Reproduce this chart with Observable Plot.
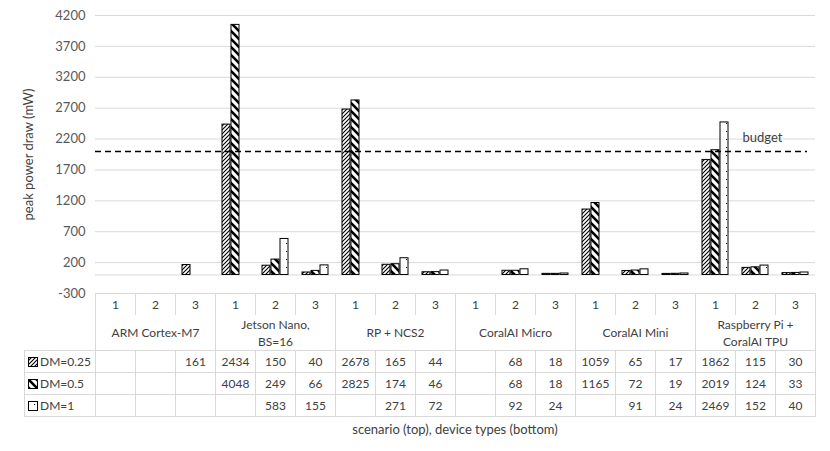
<!DOCTYPE html>
<html><head><meta charset="utf-8">
<script src="https://cdn.jsdelivr.net/npm/d3@7"></script>
<script src="https://cdn.jsdelivr.net/npm/@observablehq/plot@0.6"></script>
<style>
body{margin:0;background:#fff;font-family:Lato,"DejaVu Sans",sans-serif;}
#wrap{position:relative;width:830px;height:451px;overflow:hidden;background:#fff;}
#chart{position:absolute;left:0;top:0;}
#tbl{position:absolute;left:24px;top:293px;border-collapse:collapse;table-layout:fixed;font-size:12px;color:#404040;width:791px;background:transparent;}
#tbl td{padding:0;border:1px solid #d9d9d9;text-align:center;white-space:pre-line;line-height:17px;}
#tbl tr.r1 td{border-bottom:none;height:21px;}
#tbl tr.r2 td{border-top:none;height:35px;}
#tbl tr.rd td{height:21px;}
#tbl td.blank{border:none;}
#tbl td.leg{text-align:left;padding-left:3px;white-space:nowrap;}
#tbl td.leg svg{vertical-align:-1px;margin-right:2px;}
#xtitle{position:absolute;left:95px;width:720px;top:421px;text-align:center;font-size:13px;color:#404040;}
</style>
</head><body>
<div id="wrap"><div id="chart"></div><table id="tbl"></table><div id="xtitle"></div></div>
<script>
const devices = ["ARM Cortex-M7", "Jetson Nano,\nBS=16", "RP + NCS2", "CoralAI Micro", "CoralAI Mini", "Raspberry Pi +\nCoralAI TPU"];
const scenarios = [1, 2, 3];
const seriesNames = ["DM=0.25", "DM=0.5", "DM=1"];
const dm025 = [null, null, 161, 2434, 150, 40, 2678, 165, 44, null, 68, 18, 1059, 65, 17, 1862, 115, 30];
const dm05  = [null, null, null, 4048, 249, 66, 2825, 174, 46, null, 68, 18, 1165, 72, 19, 2019, 124, 33];
const dm1   = [null, null, null, null, 583, 155, null, 271, 72, null, 92, 24, null, 91, 24, 2469, 152, 40];
const yTicks = [-300, 200, 700, 1200, 1700, 2200, 2700, 3200, 3700, 4200];
const budget = 2000;
const budgetLabel = "budget";
const yLabel = "peak power draw (mW)";
const xTitle = "scenario (top), device types (bottom)";

const series = [dm025, dm05, dm1];
const patIds = ["p025", "p05", "p1"];
const cols = [];
devices.forEach((dev, di) => scenarios.forEach((s, si) => cols.push({key: dev + "|" + s, dev, s, i: di * 3 + si})));
const recs = s => cols.map(c => ({key: c.key, v: series[s][c.i]})).filter(d => d.v != null);

const insets = [[7, 25], [16, 16], [25, 7]];

const chart = Plot.plot({
  width: 830, height: 303,
  marginLeft: 95, marginRight: 15, marginTop: 15, marginBottom: 10,
  style: {fontFamily: "Lato, sans-serif", fontSize: "13px", color: "#595959", background: "transparent"},
  x: {domain: cols.map(c => c.key), padding: 0, axis: null},
  y: {domain: [-300, 4200], axis: null},
  marks: [
    Plot.ruleY(yTicks.slice(1), {stroke: "#d9d9d9", strokeWidth: 1}),
    Plot.ruleY([0], {stroke: "#d9d9d9", strokeWidth: 1}),
    Plot.axisY({ticks: yTicks, tickSize: 0, tickPadding: 10, label: null, fontSize: 13, tickFormat: d => String(d)}),
    Plot.text([yLabel], {text: d => d, frameAnchor: "left", textAnchor: "middle", dx: -67, rotate: -90, fill: "#404040", fontSize: 13}),
    ...[0, 1, 2].map(s => Plot.barY(recs(s), {
      x: "key", y: "v", fill: `url(#${patIds[s]})`, stroke: "black", strokeWidth: 1,
      insetLeft: insets[s][0], insetRight: insets[s][1]
    })),
    Plot.ruleY([budget], {stroke: "black", strokeWidth: 1.5, strokeDasharray: "6,4", insetRight: 8}),
    Plot.text([budget], {y: d => d, text: () => budgetLabel, frameAnchor: "right", textAnchor: "middle", dx: -53, dy: -14, fill: "#404040", fontSize: 13})
  ]
});

const defsHTML = `
<pattern id="p025" patternUnits="userSpaceOnUse" width="4" height="4">
  <rect width="4" height="4" fill="white"/>
  <path d="M-1,1 l2,-2 M0,4 l4,-4 M3,5 l2,-2" stroke="black" stroke-width="1.1"/>
</pattern>
<pattern id="p05" patternUnits="userSpaceOnUse" width="8" height="8">
  <rect width="8" height="8" fill="white"/>
  <path d="M-4,4 L4,12 M0,0 L8,8 M4,-4 L12,4" stroke="black" stroke-width="2.6"/>
</pattern>
<pattern id="p1" patternUnits="userSpaceOnUse" width="8" height="8">
  <rect width="8" height="8" fill="white"/>
  <rect x="6" y="3" width="1" height="1" fill="black"/>
</pattern>`;
const svgSel = d3.select(chart);
svgSel.insert("defs", ":first-child").html(defsHTML);
document.getElementById("chart").appendChild(chart);

// data table
const tbl = d3.select("#tbl");
const cg = tbl.append("colgroup");
cg.append("col").style("width", "71px");
cols.forEach(() => cg.append("col").style("width", "40px"));
const r1 = tbl.append("tr").attr("class", "r1");
r1.append("td").attr("class", "blank").attr("rowspan", 2);
cols.forEach(c => r1.append("td").text(c.s));
const r2 = tbl.append("tr").attr("class", "r2");
devices.forEach(d => r2.append("td").attr("colspan", scenarios.length).text(d));
seriesNames.forEach((name, s) => {
  const tr = tbl.append("tr").attr("class", "rd");
  const lg = tr.append("td").attr("class", "leg");
  lg.html(`<svg width="10" height="10"><rect x="0.5" y="0.5" width="9" height="9" fill="url(#${patIds[s]})" stroke="black"/></svg>`);
  lg.append("span").text(name);
  cols.forEach(c => tr.append("td").text(series[s][c.i] == null ? "" : series[s][c.i]));
});
document.getElementById("xtitle").textContent = xTitle;
</script>
</body></html>
